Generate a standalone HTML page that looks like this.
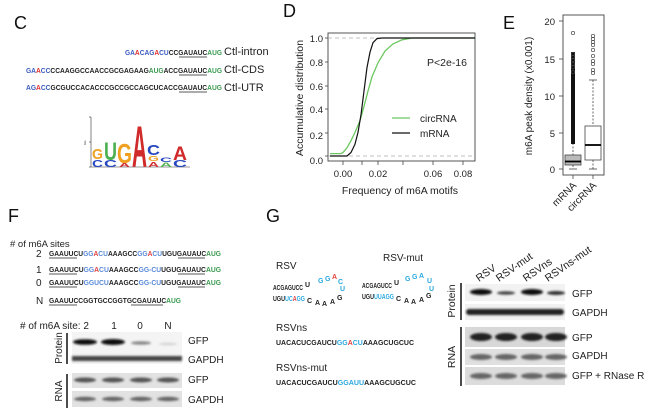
<!DOCTYPE html>
<html><head><meta charset="utf-8"><style>
html,body{margin:0;padding:0;background:#fff;width:652px;height:417px;overflow:hidden}
svg{display:block}
text{font-family:"Liberation Sans",sans-serif}
.s{font-family:"Liberation Serif",serif;font-weight:bold;font-size:7px}
</style></head><body>
<svg width="652" height="417" viewBox="0 0 652 417" xmlns="http://www.w3.org/2000/svg">
<defs><filter id="b" x="-20%" y="-50%" width="140%" height="200%"><feGaussianBlur stdDeviation="1.1"/></filter></defs>
<g font-size="18" fill="#111">
<text x="14" y="29">C</text><text x="283" y="17">D</text><text x="503" y="29">E</text>
<text x="8" y="222">F</text><text x="266" y="222">G</text></g>

<g class="s">
<text x="125" y="55" textLength="97" lengthAdjust="spacingAndGlyphs"><tspan fill="#3a5cc0">GA</tspan><tspan fill="#e03030">A</tspan><tspan fill="#3a5cc0">CAG</tspan><tspan fill="#e03030">A</tspan><tspan fill="#3a5cc0">CU</tspan><tspan fill="#222">CC</tspan><tspan fill="#222">GAUAUC</tspan><tspan fill="#3a9a50">AUG</tspan></text>
<text x="26" y="73" textLength="196" lengthAdjust="spacingAndGlyphs"><tspan fill="#3a5cc0">GA</tspan><tspan fill="#e03030">A</tspan><tspan fill="#3a5cc0">CC</tspan><tspan fill="#222">CCAAGGCCAACCGCGAGAAG</tspan><tspan fill="#3a9a50">AUG</tspan><tspan fill="#222">ACC</tspan><tspan fill="#222">GAUAUC</tspan><tspan fill="#3a9a50">AUG</tspan></text>
<text x="26" y="90" textLength="196" lengthAdjust="spacingAndGlyphs"><tspan fill="#3a5cc0">AG</tspan><tspan fill="#e03030">A</tspan><tspan fill="#3a5cc0">CC</tspan><tspan fill="#222">GCGUCCACACCCGCCGCCAGCUCACC</tspan><tspan fill="#222">GAUAUC</tspan><tspan fill="#3a9a50">AUG</tspan></text>
</g>
<g stroke="#222" stroke-width="0.8"><line x1="179" y1="57" x2="207" y2="57"/><line x1="179" y1="75" x2="207" y2="75"/><line x1="179" y1="92" x2="207" y2="92"/></g>
<g font-size="11" fill="#222"><text x="224" y="55">Ctl-intron</text><text x="224" y="73">Ctl-CDS</text><text x="224" y="91">Ctl-UTR</text></g>

<g stroke="#333" stroke-width="0.6" fill="none"><path d="M91 117 V167 H190"/><line x1="89" y1="117" x2="91" y2="117"/><line x1="89" y1="142" x2="91" y2="142"/><line x1="89" y1="167" x2="91" y2="167"/></g>
<g font-weight="bold" font-family="Liberation Sans,sans-serif">
<text x="92" y="159" font-size="15" textLength="11" lengthAdjust="spacingAndGlyphs" fill="#f0a020">G</text>
<text x="92" y="167" font-size="10" textLength="11" lengthAdjust="spacingAndGlyphs" fill="#2848c0">C</text>
<text x="104" y="160" font-size="25" textLength="13" lengthAdjust="spacingAndGlyphs" fill="#4caf50">U</text>
<text x="104" y="167" font-size="10" textLength="13" lengthAdjust="spacingAndGlyphs" fill="#2848c0">C</text>
<text x="117" y="163" font-size="28" textLength="15" lengthAdjust="spacingAndGlyphs" fill="#f0a020">G</text>
<text x="119" y="167" font-size="5" textLength="11" lengthAdjust="spacingAndGlyphs" fill="#d03030">A</text>
<text x="132" y="167" font-size="58" textLength="15" lengthAdjust="spacingAndGlyphs" fill="#d02a2a">A</text>
<text x="147" y="155" font-size="15" textLength="13" lengthAdjust="spacingAndGlyphs" fill="#2848c0">C</text>
<text x="148" y="161" font-size="7" textLength="11" lengthAdjust="spacingAndGlyphs" fill="#f0a020">G</text>
<text x="148" y="167" font-size="7" textLength="11" lengthAdjust="spacingAndGlyphs" fill="#d03030">A</text>
<text x="160" y="162" font-size="6" textLength="12" lengthAdjust="spacingAndGlyphs" fill="#2848c0">C</text>
<text x="160" y="167" font-size="6" textLength="12" lengthAdjust="spacingAndGlyphs" fill="#4caf50">A</text>
<text x="173" y="160" font-size="19" textLength="14" lengthAdjust="spacingAndGlyphs" fill="#d02a2a">A</text>
<text x="173" y="167" font-size="10" textLength="14" lengthAdjust="spacingAndGlyphs" fill="#2848c0">C</text>
</g>
<text x="0" y="0" font-size="3" fill="#333" transform="translate(86,145) rotate(-90)">bits</text>

<rect x="328" y="33" width="147" height="128" fill="none" stroke="#444" stroke-width="0.9"/>
<g stroke="#aaa" stroke-dasharray="4,3" stroke-width="0.8"><line x1="328" y1="38" x2="475" y2="38"/><line x1="328" y1="156" x2="475" y2="156"/></g>
<g stroke="#444" stroke-width="0.8">
<line x1="325" y1="38" x2="328" y2="38"/><line x1="325" y1="62" x2="328" y2="62"/><line x1="325" y1="86" x2="328" y2="86"/><line x1="325" y1="109" x2="328" y2="109"/><line x1="325" y1="133" x2="328" y2="133"/><line x1="325" y1="156" x2="328" y2="156"/>
<line x1="343" y1="161" x2="343" y2="165"/><line x1="362" y1="161" x2="362" y2="165"/><line x1="378" y1="161" x2="378" y2="165"/><line x1="403" y1="161" x2="403" y2="165"/><line x1="433" y1="161" x2="433" y2="165"/><line x1="463" y1="161" x2="463" y2="165"/></g>
<g font-size="9.5" fill="#222" text-anchor="end"><text x="323" y="42">1.0</text><text x="323" y="66">0.8</text><text x="323" y="90">0.6</text><text x="323" y="113">0.4</text><text x="323" y="139">0.2</text><text x="323" y="164">0.0</text></g>
<g font-size="9.5" fill="#222" text-anchor="middle"><text x="343" y="177">0.00</text><text x="378" y="177">0.02</text><text x="433" y="177">0.06</text><text x="463" y="177">0.08</text></g>
<text x="400" y="194" font-size="10.5" fill="#222" text-anchor="middle">Frequency of m6A motifs</text>
<text font-size="10.5" fill="#222" text-anchor="middle" transform="translate(303,98) rotate(-90)">Accumulative distribution</text>
<polyline fill="none" stroke="#6cc860" stroke-width="1.3" points="330,153.6 341,153.6 343,152.5 347,147.7 351,140.7 355,132.4 360,120.6 364,106.4 368,91.1 372,76.9 378,62.8 385,51 393,43.9 402,39.8 412,38 475,38"/>
<polyline fill="none" stroke="#111" stroke-width="1.2" points="330,156 347,156 351,152.5 355,144.2 358,132.4 361,114.7 364,91.1 367,67.5 370,52.2 373,42.7 377,38.6 382,38 475,38"/>
<text x="427" y="66" font-size="10.5" fill="#222">P&lt;2e-16</text>
<line x1="392" y1="118" x2="410" y2="118" stroke="#6cc860" stroke-width="1.3"/>
<line x1="392" y1="133" x2="410" y2="133" stroke="#111" stroke-width="1.2"/>
<g font-size="10" fill="#222"><text x="420" y="122">circRNA</text><text x="420" y="137">mRNA</text></g>

<rect x="563" y="15" width="41" height="160" fill="none" stroke="#444" stroke-width="0.9"/>
<g stroke="#444" stroke-width="0.8"><line x1="559" y1="21" x2="563" y2="21"/><line x1="559" y1="59" x2="563" y2="59"/><line x1="559" y1="96" x2="563" y2="96"/><line x1="559" y1="133" x2="563" y2="133"/><line x1="559" y1="169" x2="563" y2="169"/>
<line x1="573" y1="175" x2="573" y2="179"/><line x1="593" y1="175" x2="593" y2="179"/></g>
<g font-size="9.5" fill="#222" text-anchor="end"><text x="555" y="25">20</text><text x="555" y="63">15</text><text x="555" y="100">10</text><text x="555" y="137">5</text><text x="555" y="173">0</text></g>
<text font-size="10" fill="#222" text-anchor="middle" transform="translate(532,96) rotate(-90)">m6A peak density (x0.001)</text>
<line x1="573" y1="143" x2="573" y2="155" stroke="#444" stroke-dasharray="2,1.5" stroke-width="0.8"/>
<line x1="573" y1="165" x2="573" y2="169" stroke="#444" stroke-dasharray="2,1.5" stroke-width="0.8"/>
<line x1="569" y1="169" x2="577" y2="169" stroke="#444" stroke-width="0.8"/>
<rect x="565" y="155" width="16" height="10" fill="#bbb" stroke="#444" stroke-width="0.8"/>
<line x1="565" y1="161.5" x2="581" y2="161.5" stroke="#000" stroke-width="1.8"/>
<rect x="571" y="52" width="4" height="92" fill="#111"/>
<g fill="none" stroke="#444" stroke-width="0.7"><circle cx="573" cy="33" r="1.7"/><circle cx="573" cy="54" r="1.7"/><circle cx="573" cy="57" r="1.7"/><circle cx="573" cy="60" r="1.7"/><circle cx="573" cy="64" r="1.7"/><circle cx="573" cy="67" r="1.7"/><circle cx="573" cy="72" r="1.7"/></g>
<line x1="593" y1="80" x2="593" y2="126" stroke="#444" stroke-dasharray="2,1.5" stroke-width="0.8"/>
<line x1="593" y1="160" x2="593" y2="169" stroke="#444" stroke-dasharray="2,1.5" stroke-width="0.8"/>
<line x1="589" y1="80" x2="597" y2="80" stroke="#444" stroke-width="0.8"/>
<line x1="589" y1="169" x2="597" y2="169" stroke="#444" stroke-width="0.8"/>
<rect x="585" y="126" width="16" height="34" fill="#fff" stroke="#444" stroke-width="0.8"/>
<line x1="585" y1="145" x2="601" y2="145" stroke="#000" stroke-width="1.8"/>
<g fill="none" stroke="#444" stroke-width="0.7"><circle cx="593" cy="36" r="1.7"/><circle cx="593" cy="39" r="1.7"/><circle cx="593" cy="42" r="1.7"/><circle cx="593" cy="45" r="1.7"/><circle cx="593" cy="50" r="1.7"/><circle cx="593" cy="56" r="1.7"/><circle cx="593" cy="61" r="1.7"/><circle cx="593" cy="64" r="1.7"/><circle cx="593" cy="70" r="1.7"/><circle cx="593" cy="73" r="1.7"/></g>
<g font-size="10" fill="#222" text-anchor="end"><text transform="translate(577,186) rotate(-45)">mRNA</text><text transform="translate(597,186) rotate(-45)">circRNA</text></g>

<text x="10" y="247" font-size="9.5" fill="#222"># of m6A sites</text>
<g font-size="10" fill="#222"><text x="36" y="257">2</text><text x="36" y="273">1</text><text x="36" y="286">0</text><text x="36" y="304">N</text></g>
<g class="s" font-size="6.5">
<text x="49" y="256" textLength="172" lengthAdjust="spacingAndGlyphs"><tspan fill="#222">GAAUUC</tspan><tspan fill="#222">U</tspan><tspan fill="#5a8ad8">GG</tspan><tspan fill="#e04040">A</tspan><tspan fill="#5a8ad8">CU</tspan><tspan fill="#222">AAAGCC</tspan><tspan fill="#5a8ad8">GG</tspan><tspan fill="#e04040">A</tspan><tspan fill="#5a8ad8">CU</tspan><tspan fill="#222">UGUGAUAUC</tspan><tspan fill="#3a9a50">AUG</tspan></text>
<text x="49" y="272" textLength="172" lengthAdjust="spacingAndGlyphs"><tspan fill="#222">GAAUUCU</tspan><tspan fill="#5a8ad8">GG</tspan><tspan fill="#e04040">A</tspan><tspan fill="#5a8ad8">CU</tspan><tspan fill="#222">AAAGCC</tspan><tspan fill="#5a8ad8">GG-CU</tspan><tspan fill="#222">UGUGAUAUC</tspan><tspan fill="#3a9a50">AUG</tspan></text>
<text x="49" y="285" textLength="172" lengthAdjust="spacingAndGlyphs"><tspan fill="#222">GAAUUCU</tspan><tspan fill="#5a8ad8">GGUCU</tspan><tspan fill="#222">AAAGCC</tspan><tspan fill="#5a8ad8">GG-CU</tspan><tspan fill="#222">UGUGAUAUC</tspan><tspan fill="#3a9a50">AUG</tspan></text>
<text x="49" y="303" textLength="132" lengthAdjust="spacingAndGlyphs"><tspan fill="#222">GAAUUCCGGTGCCGGTGCGAUAUC</tspan><tspan fill="#3a9a50">AUG</tspan></text>
</g>
<g stroke="#222" stroke-width="0.8"><line x1="49" y1="258" x2="77" y2="258"/><line x1="178" y1="258" x2="205" y2="258"/><line x1="49" y1="274" x2="77" y2="274"/><line x1="178" y1="274" x2="205" y2="274"/><line x1="49" y1="287" x2="77" y2="287"/><line x1="178" y1="287" x2="205" y2="287"/><line x1="49" y1="305" x2="77" y2="305"/><line x1="131" y1="305" x2="163" y2="305"/></g>
<text x="20" y="329" font-size="10" fill="#222"># of m6A site: 2</text>
<g font-size="10" fill="#222" text-anchor="middle"><text x="114" y="329">1</text><text x="140" y="329">0</text><text x="168" y="329">N</text></g>
<rect x="72" y="332" width="110" height="32" fill="#f4f4f4"/>
<rect x="72" y="373" width="110" height="15" fill="#e2e2e2"/>
<rect x="72" y="391" width="110" height="16" fill="#e2e2e2"/>
<g filter="url(#b)">
<ellipse cx="85" cy="342" rx="12" ry="2.8" fill="#111"/><ellipse cx="113" cy="342" rx="12" ry="3" fill="#111"/><ellipse cx="141" cy="343" rx="10" ry="1.8" fill="#888"/><ellipse cx="168" cy="344" rx="9" ry="1" fill="#ccc"/>
<rect x="72" y="356" width="110" height="5" fill="#444"/>
<ellipse cx="85" cy="380" rx="11" ry="2.5" fill="#555"/><ellipse cx="113" cy="380" rx="11" ry="2.5" fill="#555"/><ellipse cx="141" cy="380" rx="11" ry="2.5" fill="#555"/><ellipse cx="168" cy="380" rx="11" ry="2.5" fill="#555"/>
<ellipse cx="85" cy="399" rx="11" ry="2.2" fill="#666"/><ellipse cx="113" cy="399" rx="11" ry="2.2" fill="#666"/><ellipse cx="141" cy="399" rx="11" ry="2.2" fill="#666"/><ellipse cx="168" cy="399" rx="11" ry="2.2" fill="#666"/>
</g>
<g stroke="#111" stroke-width="1.5"><line x1="67" y1="333" x2="67" y2="364"/><line x1="67" y1="374" x2="67" y2="408"/></g>
<g font-size="10" fill="#222" text-anchor="middle"><text transform="translate(62,348) rotate(-90)">Protein</text><text transform="translate(62,391) rotate(-90)">RNA</text></g>
<g font-size="10" fill="#222"><text x="188" y="344">GFP</text><text x="188" y="363">GAPDH</text><text x="188" y="383">GFP</text><text x="188" y="403">GAPDH</text></g>

<g font-size="10" fill="#222"><text x="276" y="269">RSV</text><text x="383" y="261">RSV-mut</text><text x="276" y="331">RSVns</text><text x="276" y="371">RSVns-mut</text></g>
<g class="s" font-size="6.5">
<text x="273" y="290" fill="#222" textLength="30" lengthAdjust="spacingAndGlyphs">ACGAGUCC</text><text x="305" y="287" fill="#222">U</text>
<text x="318" y="283" fill="#2aa8e0">G</text><text x="325" y="281" fill="#2aa8e0">G</text><text x="332" y="279" fill="#e04040">A</text><text x="338" y="284" fill="#2aa8e0">C</text><text x="340" y="291" fill="#2aa8e0">U</text>
<text x="273" y="301" textLength="32" lengthAdjust="spacingAndGlyphs"><tspan fill="#222">UGU</tspan><tspan fill="#2aa8e0">UC</tspan><tspan fill="#e04040">A</tspan><tspan fill="#2aa8e0">GG</tspan></text>
<text x="307" y="303" fill="#222">C</text><text x="315" y="305" fill="#222">A</text><text x="322" y="306" fill="#222">A</text><text x="330" y="304" fill="#222">A</text><text x="337" y="300" fill="#222">G</text>
<text x="362" y="288" fill="#222" textLength="30" lengthAdjust="spacingAndGlyphs">ACGAGUCC</text><text x="394" y="285" fill="#222">U</text>
<text x="405" y="281" fill="#2aa8e0">G</text><text x="412" y="279" fill="#2aa8e0">G</text><text x="419" y="278" fill="#2aa8e0">A</text><text x="427" y="283" fill="#2aa8e0">U</text><text x="429" y="291" fill="#2aa8e0">U</text>
<text x="362" y="299" textLength="32" lengthAdjust="spacingAndGlyphs"><tspan fill="#222">UGU</tspan><tspan fill="#2aa8e0">UUAGG</tspan></text>
<text x="396" y="301" fill="#222">C</text><text x="404" y="303" fill="#222">A</text><text x="411" y="304" fill="#222">A</text><text x="419" y="302" fill="#222">A</text><text x="426" y="298" fill="#222">G</text>
<text x="276" y="345" textLength="138" lengthAdjust="spacingAndGlyphs"><tspan fill="#222">UACACUCGAUCU</tspan><tspan fill="#2aa8e0">GG</tspan><tspan fill="#e04040">A</tspan><tspan fill="#2aa8e0">CU</tspan><tspan fill="#222">AAAGCUGCUC</tspan></text>
<text x="276" y="385" textLength="140" lengthAdjust="spacingAndGlyphs"><tspan fill="#222">UACACUCGAUCU</tspan><tspan fill="#2aa8e0">GGAUU</tspan><tspan fill="#222">AAAGCUGCUC</tspan></text>
</g>
<g font-size="10.5" fill="#222"><text transform="translate(479,282) rotate(-35)">RSV</text><text transform="translate(499,282) rotate(-35)">RSV-mut</text><text transform="translate(526,282) rotate(-35)">RSVns</text><text transform="translate(548,282) rotate(-35)">RSVns-mut</text></g>
<rect x="465" y="284" width="100" height="17" fill="#f2f2f2"/>
<rect x="465" y="304" width="100" height="16" fill="#f2f2f2"/>
<rect x="465" y="327" width="100" height="20" fill="#d8d8d8"/>
<rect x="465" y="349" width="100" height="16" fill="#e0e0e0"/>
<rect x="465" y="367" width="100" height="18" fill="#dcdcdc"/>
<g filter="url(#b)">
<ellipse cx="481" cy="292" rx="11" ry="3" fill="#111"/><ellipse cx="506" cy="293" rx="9" ry="1.8" fill="#444"/><ellipse cx="532" cy="292" rx="11" ry="3" fill="#111"/><ellipse cx="556" cy="293" rx="9" ry="2" fill="#333"/>
<rect x="466" y="309" width="98" height="6" rx="3" fill="#222"/>
<ellipse cx="481" cy="337" rx="11" ry="4" fill="#222"/><ellipse cx="506" cy="337" rx="11" ry="4" fill="#222"/><ellipse cx="532" cy="337" rx="11" ry="4" fill="#222"/><ellipse cx="556" cy="337" rx="11" ry="4" fill="#222"/>
<ellipse cx="481" cy="357" rx="11" ry="3" fill="#666"/><ellipse cx="506" cy="357" rx="11" ry="3" fill="#666"/><ellipse cx="532" cy="357" rx="11" ry="3" fill="#666"/><ellipse cx="556" cy="357" rx="11" ry="3" fill="#666"/>
<ellipse cx="481" cy="376" rx="11" ry="3" fill="#666"/><ellipse cx="506" cy="376" rx="11" ry="3" fill="#666"/><ellipse cx="532" cy="376" rx="11" ry="3" fill="#666"/><ellipse cx="556" cy="376" rx="11" ry="3" fill="#666"/>
</g>
<g stroke="#111" stroke-width="1.5"><line x1="461" y1="283" x2="461" y2="320"/><line x1="461" y1="327" x2="461" y2="386"/></g>
<g font-size="10.5" fill="#222" text-anchor="middle"><text transform="translate(455,301) rotate(-90)">Protein</text><text transform="translate(455,357) rotate(-90)">RNA</text></g>
<g font-size="10" fill="#222"><text x="572" y="297">GFP</text><text x="572" y="316">GAPDH</text><text x="572" y="341">GFP</text><text x="572" y="359">GAPDH</text><text x="572" y="379">GFP + RNase R</text></g>
</svg>
</body></html>
